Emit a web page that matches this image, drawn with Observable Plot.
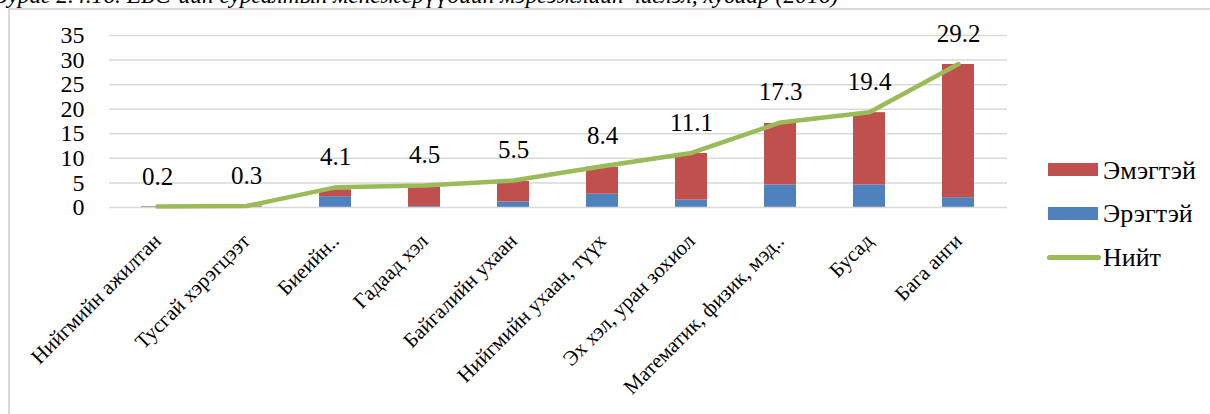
<!DOCTYPE html>
<html>
<head>
<meta charset="utf-8">
<script src="https://cdn.jsdelivr.net/npm/d3@7"></script>
<script src="https://cdn.jsdelivr.net/npm/@observablehq/plot@0.6"></script>
<style>
  html, body { margin: 0; padding: 0; background: #fff; }
  #wrap { position: relative; width: 1210px; height: 414px; overflow: hidden; font-family: "Liberation Serif", "Times New Roman", serif; color: #000; }
  #title { position: absolute; left: -4px; top: -17px; font-style: italic; font-size: 23.5px; white-space: nowrap; line-height: 24px; }
  #frameTop { position: absolute; left: 8px; top: 8px; width: 1202px; height: 2px; background: #d9d9d9; }
  #frameLeft { position: absolute; left: 8px; top: 8px; width: 2px; height: 406px; background: #d9d9d9; }
  #chart { position: absolute; left: 0; top: 0; }
  .lg { position: absolute; font-size: 26px; line-height: 26px; white-space: nowrap; }
  .sw { position: absolute; }
</style>
</head>
<body>
<div id="wrap">
  <div id="title">Зураг 2.4.16. ЕБС-ийн сургалтын менежерүүдийн мэргэжлийн чиглэл, хувиар (2016)</div>
  <div id="frameTop"></div>
  <div id="frameLeft"></div>
  <div id="chart"></div>
  <div class="sw" style="left:1048px;top:163px;width:50px;height:13px;background:#C0504D"></div>
  <div class="lg" style="left:1103px;top:158px">Эмэгтэй</div>
  <div class="sw" style="left:1048px;top:207px;width:50px;height:13px;background:#4F81BD"></div>
  <div class="lg" style="left:1103px;top:201px">Эрэгтэй</div>
  <div class="sw" style="left:1047px;top:255px;width:54px;height:5px;background:#9BBB59;border-radius:3px"></div>
  <div class="lg" style="left:1103px;top:245px">Нийт</div>
</div>
<script>
const categories = ["Нийгмийн ажилтан", "Тусгай хэрэгцээт", "Биеийн..", "Гадаад хэл", "Байгалийн ухаан", "Нийгмийн ухаан, түүх", "Эх хэл, уран зохиол", "Математик, физик, мэд..", "Бусад", "Бага анги"];
const male   = [0.1, 0.1, 2.2, 0.2, 1.1, 2.7, 1.5, 4.6, 4.6, 2.0];
const female = [0.1, 0.2, 1.4, 3.9, 4.2, 5.5, 9.5, 12.5, 14.7, 27.1];
const total  = [0.2, 0.3, 4.1, 4.5, 5.5, 8.4, 11.1, 17.3, 19.4, 29.2];
const seriesNames = ["Эрэгтэй", "Эмэгтэй"];
const seriesColors = ["#4F81BD", "#C0504D"];
const lineColor = "#9BBB59";
const yTicks = [0, 5, 10, 15, 20, 25, 30, 35];

const stacked = [];
categories.forEach((c, i) => {
  stacked.push({cat: c, sex: seriesNames[0], value: male[i]});
  stacked.push({cat: c, sex: seriesNames[1], value: female[i]});
});
const totals = categories.map((c, i) => ({cat: c, total: total[i]}));

const serif = '"Liberation Serif", "Times New Roman", serif';
const chart = Plot.plot({
  width: 1210,
  height: 414,
  marginLeft: 109,
  marginRight: 203,
  marginTop: 35,
  marginBottom: 207,
  style: {fontFamily: serif, background: "transparent", color: "#000"},
  x: {domain: categories, paddingInner: 0.64, paddingOuter: 0.32, label: null},
  y: {domain: [0, 35], label: null},
  color: {domain: seriesNames, range: seriesColors},
  marks: [
    Plot.ruleY(yTicks.filter(t => t > 0), {stroke: "#d9d9d9", strokeWidth: 1.5}),
    Plot.barY(stacked, {x: "cat", y: "value", fill: "sex"}),
    Plot.ruleY([0], {stroke: "#d9d9d9", strokeWidth: 1.5}),
    Plot.lineY(totals, {x: "cat", y: "total", stroke: lineColor, strokeWidth: 4.5, strokeLinejoin: "round", strokeLinecap: "round"}),
    Plot.text(totals, {x: "cat", y: "total", text: d => d.total.toFixed(1), dy: -30, fontSize: 25, lineAnchor: "middle", fill: "#000", fontFamily: serif}),
    Plot.axisY({ticks: yTicks, tickSize: 0, tickPadding: 25, fontSize: 24, label: null, tickFormat: d => String(d), fontFamily: serif}),
    Plot.axisX({tickRotate: -45, tickSize: 0, tickPadding: 30, fontSize: 21, label: null, textAnchor: "end", lineAnchor: "middle", fontFamily: serif})
  ]
});
document.getElementById("chart").appendChild(chart);
</script>
</body>
</html>
